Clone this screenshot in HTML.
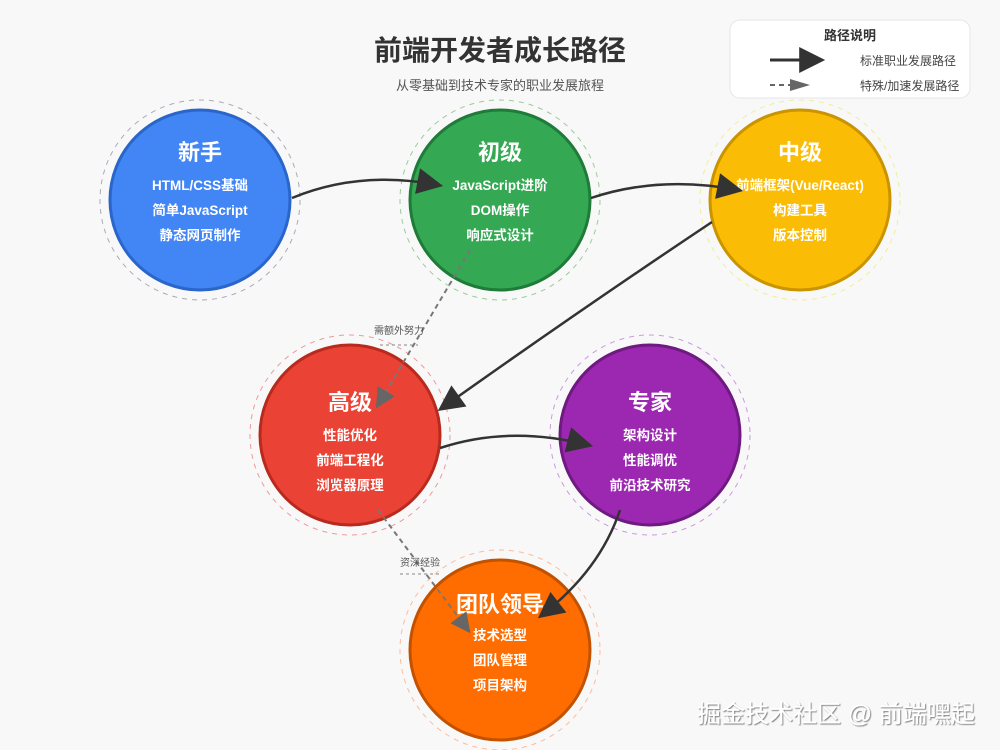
<!DOCTYPE html>
<html><head><meta charset="utf-8"><style>
html,body{margin:0;padding:0;background:#f8f8f8;}
svg{display:block;font-family:"Liberation Sans","Noto Sans CJK SC",sans-serif;}
</style></head><body>
<svg width="1000" height="750" viewBox="0 0 1000 750" xmlns="http://www.w3.org/2000/svg">
<defs>
<marker id="ab" viewBox="0 0 10 10" refX="8" refY="5" markerWidth="30" markerHeight="26" markerUnits="userSpaceOnUse" orient="auto"><path d="M0,0 L10,5 L0,10 z" fill="#333"/></marker>
<marker id="ag" viewBox="0 0 10 10" refX="8" refY="5" markerWidth="22" markerHeight="20" markerUnits="userSpaceOnUse" orient="auto"><path d="M0,0 L10,5 L0,10 z" fill="#666"/></marker>
<filter id="sh"><feDropShadow dx="1" dy="1" stdDeviation="0.6" flood-color="#000" flood-opacity="0.5"/></filter>
</defs>
<rect width="1000" height="750" fill="#f8f8f8"/>
<text x="500" y="60" text-anchor="middle" font-size="28" font-weight="bold" fill="#333">前端开发者成长路径</text>
<text x="500" y="90" text-anchor="middle" font-size="13" fill="#555">从零基础到技术专家的职业发展旅程</text>

<rect x="730" y="20" width="240" height="78" rx="10" fill="#fff" stroke="#e6e6e6"/>
<text x="850" y="40" text-anchor="middle" font-size="13" font-weight="bold" fill="#333">路径说明</text>
<line x1="770" y1="60" x2="820" y2="60" stroke="#333" stroke-width="3" marker-end="url(#ab)"/>
<text x="860" y="65" font-size="12" fill="#444">标准职业发展路径</text>
<line x1="770" y1="85" x2="800" y2="85" stroke="#666" stroke-width="2" stroke-dasharray="5,4"/>
<path d="M790,79 L810,85 L790,91 z" fill="#666"/>
<text x="860" y="90" font-size="12" fill="#444">特殊/加速发展路径</text>

<g stroke-width="1" fill="none" stroke-dasharray="5,5">
<circle cx="200" cy="200" r="100" stroke="#aab"/>
<circle cx="500" cy="200" r="100" stroke="#9c9"/>
<circle cx="800" cy="200" r="100" stroke="#ee9"/>
<circle cx="350" cy="435" r="100" stroke="#e99"/>
<circle cx="650" cy="435" r="100" stroke="#c9d"/>
<circle cx="500" cy="650" r="100" stroke="#fb9"/>
</g>
<circle cx="200" cy="200" r="90" fill="#4285f4" stroke="#2a65c9" stroke-width="3"/>
<circle cx="500" cy="200" r="90" fill="#34a853" stroke="#1e7b38" stroke-width="3"/>
<circle cx="800" cy="200" r="90" fill="#fbbc05" stroke="#c99400" stroke-width="3"/>
<circle cx="350" cy="435" r="90" fill="#ea4335" stroke="#b82a1e" stroke-width="3"/>
<circle cx="650" cy="435" r="90" fill="#9c27b0" stroke="#6f1a80" stroke-width="3"/>
<circle cx="500" cy="650" r="90" fill="#ff6d00" stroke="#c25200" stroke-width="3"/>

<g fill="#fff" text-anchor="middle">
<g font-size="22" font-weight="bold">
<text x="200" y="160">新手</text><text x="500" y="160">初级</text><text x="800" y="160">中级</text>
<text x="350" y="410">高级</text><text x="650" y="410">专家</text><text x="500" y="612">团队领导</text>
</g>
<g font-size="13.5" font-weight="600">
<text x="200" y="190">HTML/CSS基础</text><text x="200" y="215">简单JavaScript</text><text x="200" y="240">静态网页制作</text>
<text x="500" y="190">JavaScript进阶</text><text x="500" y="215">DOM操作</text><text x="500" y="240">响应式设计</text>
<text x="800" y="190">前端框架(Vue/React)</text><text x="800" y="215">构建工具</text><text x="800" y="240">版本控制</text>
<text x="350" y="440">性能优化</text><text x="350" y="465">前端工程化</text><text x="350" y="490">浏览器原理</text>
<text x="650" y="440">架构设计</text><text x="650" y="465">性能调优</text><text x="650" y="490">前沿技术研究</text>
<text x="500" y="640">技术选型</text><text x="500" y="665">团队管理</text><text x="500" y="690">项目架构</text>
</g>
</g>

<g fill="none" stroke="#333" stroke-width="2.5">
<path d="M292,198 Q360,170 438,185" marker-end="url(#ab)"/>
<path d="M591,198 Q660,175 738,190" marker-end="url(#ab)"/>
<path d="M712,222 Q580,310 442,408" marker-end="url(#ab)"/>
<path d="M440,448 Q510,425 588,445" marker-end="url(#ab)"/>
<path d="M620,510 Q600,570 542,615" marker-end="url(#ab)"/>
</g>
<g fill="none" stroke="#777" stroke-width="2" stroke-dasharray="5,4">
<path d="M470,250 L378,405" marker-end="url(#ag)"/>
<path d="M378,510 L468,630" marker-end="url(#ag)"/>
</g>
<text x="399" y="334" text-anchor="middle" font-size="10" fill="#555">需额外努力</text>
<line x1="380" y1="345" x2="418" y2="345" stroke="#888" stroke-dasharray="3,3"/>
<text x="420" y="566" text-anchor="middle" font-size="10" fill="#555">资深经验</text>
<line x1="400" y1="574" x2="440" y2="574" stroke="#888" stroke-dasharray="3,3"/>

<text x="836" y="722" text-anchor="middle" font-size="24" fill="#fff" filter="url(#sh)">掘金技术社区 @ 前端嘿起</text>
</svg>
</body></html>
